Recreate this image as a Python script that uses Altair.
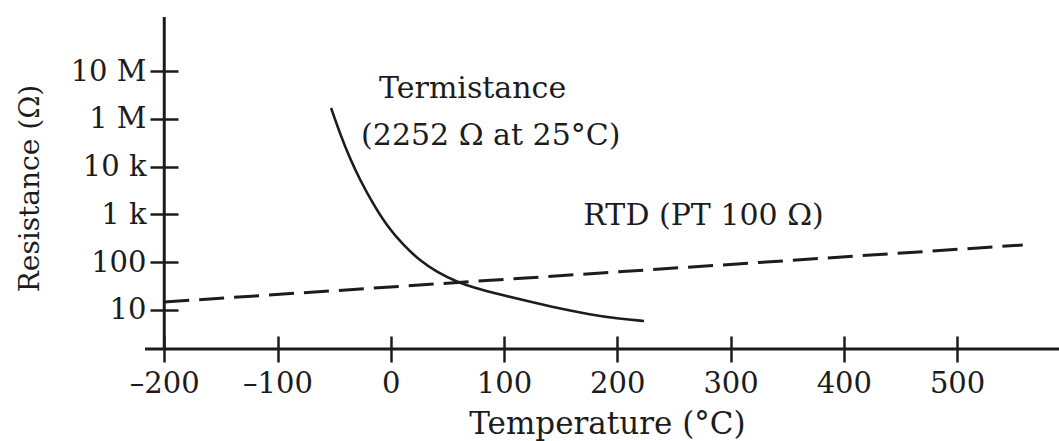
import altair as alt
import pandas as pd

# ---------------- data ----------------
temp_ticks = [-200, -100, 0, 100, 200, 300, 400, 500]
res_levels = [0, 1, 2, 3, 4, 5]
res_labels = ["10", "100", "1 k", "10 k", "1 M", "10 M"]

# thermistor curve (temperature in °C, position on the resistance scale)
therm_temp = [-52.7, -44.7, -35.9, -27.1, -15.6, -3.3, 10.9, 25.9, 40.8,
              58.5, 76.1, 87.6, 116.8, 146.8, 175.9, 202.4, 223.6]
therm_level = [4.226, 3.682, 3.159, 2.720, 2.218, 1.757, 1.36, 1.03, 0.79,
               0.586, 0.450, 0.377, 0.209, 0.042, -0.094, -0.188, -0.230]

# RTD (PT100) line
rtd_temp = [-200, 558]
rtd_level = [0.168, 1.36]

# annotations
note_text = ["Termistance", "(2252 Ω at 25°C)", "RTD (PT 100 Ω)"]
note_temp = [-10.3, -26.2, 170.0]
note_level = [4.435, 3.45, 1.78]

x_domain = [-217, 590]
y_domain = [-0.816, 6.13]

# ---------------- styling ----------------
INK = "#1c1c1c"
FONT = "DejaVu Serif"

x_scale = alt.Scale(domain=x_domain, nice=False, zero=False)
y_scale = alt.Scale(domain=y_domain, nice=False, zero=False)

label_js = "[" + ",".join("'" + s + "'" for s in res_labels) + "][datum.value]"

x_axis = alt.Axis(
    values=temp_ticks,
    labelExpr="datum.value < 0 ? '\u2013' + abs(datum.value) : '' + datum.value",
    offset=-13, tickSize=26, tickWidth=2.5, tickColor=INK,
    domain=False, grid=False,
    labelFont=FONT, labelFontSize=29, labelColor=INK, labelPadding=7,
    title="Temperature (°C)", titleFont=FONT, titleFontSize=31,
    titleFontWeight="normal", titleColor=INK,
    titleX=462, titleY=97, titleAlign="center", titleBaseline="alphabetic",
)
y_axis = alt.Axis(
    values=res_levels, labelExpr=label_js,
    offset=-33, tickSize=28, tickWidth=2.5, tickColor=INK,
    domain=False, grid=False,
    labelFont=FONT, labelFontSize=29, labelColor=INK, labelPadding=4,
    labelBaseline="middle",
    title="Resistance (Ω)", titleFont=FONT, titleFontSize=28,
    titleFontWeight="normal", titleColor=INK,
    titleAngle=270, titleX=-140, titleY=171,
    titleAlign="center", titleBaseline="alphabetic",
)

therm_df = pd.DataFrame({"temp": therm_temp, "level": therm_level})
rtd_df = pd.DataFrame({"temp": rtd_temp, "level": rtd_level})
notes_df = pd.DataFrame({"temp": note_temp, "level": note_level, "label": note_text})
xline_df = pd.DataFrame({"temp": [x_domain[0]], "temp2": [x_domain[1]], "level": [y_domain[0]]})
yline_df = pd.DataFrame({"temp": [temp_ticks[0]], "level": [y_domain[1]], "level2": [y_domain[0]]})

therm = alt.Chart(therm_df).mark_line(
    color=INK, strokeWidth=2.6, interpolate="basis"
).encode(
    x=alt.X("temp:Q", scale=x_scale, axis=x_axis),
    y=alt.Y("level:Q", scale=y_scale, axis=y_axis),
)

rtd = alt.Chart(rtd_df).mark_line(
    color=INK, strokeWidth=3, strokeDash=[25, 10]
).encode(
    x=alt.X("temp:Q", scale=x_scale),
    y=alt.Y("level:Q", scale=y_scale),
)

xline = alt.Chart(xline_df).mark_rule(color=INK, strokeWidth=3).encode(
    x=alt.X("temp:Q", scale=x_scale), x2="temp2:Q",
    y=alt.Y("level:Q", scale=y_scale),
)
yline = alt.Chart(yline_df).mark_rule(color=INK, strokeWidth=3).encode(
    x=alt.X("temp:Q", scale=x_scale),
    y=alt.Y("level:Q", scale=y_scale), y2="level2:Q",
)

notes = alt.Chart(notes_df).mark_text(
    align="left", baseline="alphabetic", font=FONT, fontSize=30, color=INK
).encode(
    x=alt.X("temp:Q", scale=x_scale),
    y=alt.Y("level:Q", scale=y_scale),
    text="label:N",
)

chart = alt.layer(therm, rtd, xline, yline, notes).properties(
    width=914, height=332,
    padding={"left": 145, "top": 17, "right": 0, "bottom": 92},
    autosize=alt.AutoSizeParams(type="none"),
    background="white",
).configure_view(stroke=None)

chart.save("out.html", embed_options={"renderer": "svg", "actions": False})
